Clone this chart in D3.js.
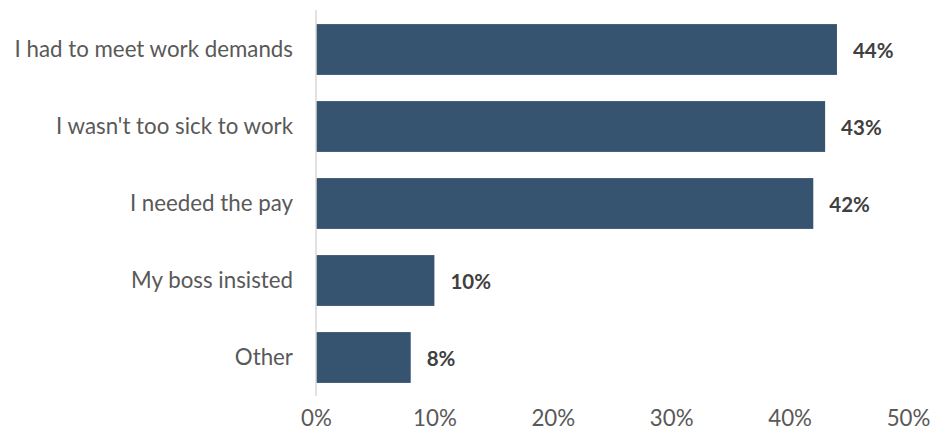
<!DOCTYPE html>
<html>
<head>
<meta charset="utf-8">
<script src="https://cdn.jsdelivr.net/npm/d3@7/dist/d3.min.js"></script>
<style>
  html, body { margin: 0; padding: 0; background: #fff; }
  svg { display: block; font-family: Lato, "Open Sans", sans-serif; }
</style>
</head>
<body>
<svg id="chart" width="930" height="436"></svg>
<script>
// Reasons given for working while sick
const categories = [
  "I had to meet work demands",
  "I wasn't too sick to work",
  "I needed the pay",
  "My boss insisted",
  "Other"
];
const values = [44, 43, 42, 10, 8];
const tickValues = [0, 10, 20, 30, 40, 50];

const svg = d3.select("#chart");
const margin = { left: 316, right: 22, top: 11, bottom: 40 };
const width = 930, height = 436;

const x = d3.scaleLinear().domain([0, 50]).range([margin.left, width - margin.right]);
const y = d3.scaleBand().domain(categories)
  .range([margin.top, height - margin.bottom]).paddingInner(0.34).paddingOuter(0.17);

const data = categories.map((c, i) => ({ c, v: values[i] }));

// bars
svg.append("g").selectAll("rect").data(data).join("rect")
  .attr("x", x(0))
  .attr("y", d => y(d.c))
  .attr("width", d => x(d.v) - x(0))
  .attr("height", y.bandwidth())
  .attr("fill", "#36536f");

// vertical axis line
svg.append("line")
  .attr("x1", x(0)).attr("x2", x(0))
  .attr("y1", 10).attr("y2", 396)
  .attr("stroke", "#d9d9d9").attr("stroke-width", 1.5);

// category labels
svg.append("g").selectAll("text").data(data).join("text")
  .attr("x", x(0) - 23)
  .attr("y", d => y(d.c) + y.bandwidth() / 2)
  .attr("dy", "0.35em")
  .attr("text-anchor", "end")
  .attr("font-size", 22.3)
  .attr("fill", "#595959")
  .text(d => d.c);

// value labels
svg.append("g").selectAll("text").data(data).join("text")
  .attr("x", d => x(d.v) + 16)
  .attr("y", d => y(d.c) + y.bandwidth() / 2 + 1)
  .attr("dy", "0.35em")
  .attr("font-size", 20.5)
  .attr("font-weight", "bold")
  .attr("fill", "#404040")
  .text(d => d.v + "%");

// x axis tick labels
const xAxis = d3.axisBottom(x).tickValues(tickValues).tickFormat(d => d + "%").tickSize(0).tickPadding(0);
const gx = svg.append("g").attr("transform", `translate(0, ${height - 26})`).call(xAxis);
gx.select(".domain").remove();
gx.selectAll("text")
  .attr("font-size", 22.3)
  .attr("font-family", "Lato, 'Open Sans', sans-serif")
  .attr("fill", "#595959");
</script>
</body>
</html>
